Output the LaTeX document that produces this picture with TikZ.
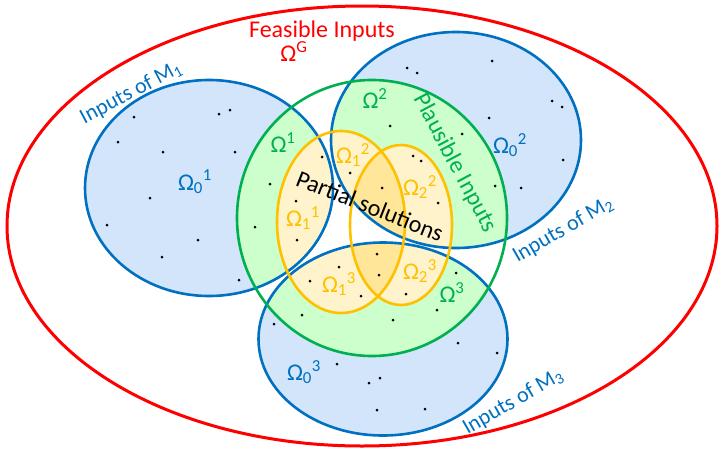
\documentclass[tikz,border=0pt]{standalone}
\usepackage{fontspec}
\setmainfont{Carlito}
\definecolor{feasred}{HTML}{FF0000}
\definecolor{inblue}{HTML}{0070C0}
\definecolor{inbluefill}{HTML}{D2E5FA}
\definecolor{plgreen}{HTML}{00B050}
\definecolor{plgreenfill}{HTML}{CCFFCC}
\definecolor{partyellow}{HTML}{FFC000}
\definecolor{partfill}{HTML}{FFF3CC}
\definecolor{partdark}{HTML}{FFE699}

\begin{document}
\begin{tikzpicture}[x=1pt,y=-1pt,
    point/.style={circle,fill=black,minimum size=3pt,inner sep=0pt},
    setline/.style={line width=2.6pt},
    lbl/.style={font=\fontsize{24}{28}\selectfont,inner sep=0pt},
    inlbl/.style={font=\fontsize{22}{26}\selectfont,inner sep=0pt,text=inblue}]

\useasboundingbox (0,0) rectangle (725,453);

% Feasible inputs
\draw[feasred,line width=3pt] (362,226) ellipse [x radius=355pt, y radius=220pt];

% Inputs of M1, M2, M3
\foreach \cx/\cy/\rx/\ry in {209/188/124/108, 456/140/125/108, 383/339/124.5/96.5}
  \fill[inbluefill] (\cx,\cy) ellipse [x radius=\rx pt, y radius=\ry pt];

% Plausible and partial regions, only inside the inputs
\foreach \cx/\cy/\rx/\ry in {209/188/124/108, 456/140/125/108, 383/339/124.5/96.5} {
  \begin{scope}
    \clip (\cx,\cy) ellipse [x radius=\rx pt, y radius=\ry pt];
    \fill[plgreenfill] (372,218) ellipse [x radius=135pt, y radius=138pt];
    \fill[partfill] (341,222) ellipse [x radius=64pt, y radius=91pt];
    \fill[partfill] (401,225) ellipse [x radius=51pt, y radius=80pt];
    \clip (341,222) ellipse [x radius=64pt, y radius=91pt];
    \fill[partdark] (401,225) ellipse [x radius=51pt, y radius=80pt];
  \end{scope}
}

% Outlines
\foreach \cx/\cy/\rx/\ry in {209/188/124/108, 456/140/125/108, 383/339/124.5/96.5}
  \draw[inblue,setline] (\cx,\cy) ellipse [x radius=\rx pt, y radius=\ry pt];
\draw[plgreen,setline] (372,218) ellipse [x radius=135pt, y radius=138pt];
\draw[partyellow,setline] (341,222) ellipse [x radius=64pt, y radius=91pt];
\draw[partyellow,setline] (401,225) ellipse [x radius=51pt, y radius=80pt];

% Sample points
\foreach \x/\y [count=\i] in {134/117, 219/114, 230/110, 118/142, 163/152, 235/152,
    270/184, 322/157, 350/173, 296/201, 150/198, 107/225,
    407/68, 417/73, 492/61, 552/101, 562/107, 489/118, 390/126, 462/134,
    413/156, 421/161, 563/160, 495/186, 521/188, 382/188, 438/203,
    255/227, 198/240, 162/257, 239/280, 297/240, 339/267, 310/281,
    361/296, 302/315, 274/324, 337/364,
    377/254, 379/275, 456/273, 406/294, 437/310, 393/320, 458/343,
    497/353, 369/383, 380/378, 377/410, 425/409}
  \node[point] (p\i) at (\x,\y) {};

% Labels
\node[lbl,text=feasred] (feas) at (322,31) {Feasible Inputs};
\node[lbl,text=feasred] (omG) at (294,52) {Ω\textsuperscript{G}};

\node[inlbl,rotate=28] (inM1) at (131,93) {Inputs of M\textsubscript{1}};
\node[inlbl,rotate=30] (inM2) at (563,230) {Inputs of M\textsubscript{2}};
\node[inlbl,rotate=30] (inM3) at (513,402) {Inputs of M\textsubscript{3}};

\node[lbl,text=inblue] (om01) at (195,182) {Ω\textsubscript{0}\textsuperscript{1}};
\node[lbl,text=inblue] (om02) at (510,145) {Ω\textsubscript{0}\textsuperscript{2}};
\node[lbl,text=inblue] (om03) at (304,372) {Ω\textsubscript{0}\textsuperscript{3}};

\node[lbl,text=plgreen] (om1) at (283,143) {Ω\textsuperscript{1}};
\node[lbl,text=plgreen] (om2) at (375,99) {Ω\textsuperscript{2}};
\node[lbl,text=plgreen] (om3) at (452,293) {Ω\textsuperscript{3}};
\node[lbl,text=plgreen,rotate=-62] (plaus) at (455,163) {Plausible Inputs};

\node[lbl,text=partyellow] (om11) at (303,218) {Ω\textsubscript{1}\textsuperscript{1}};
\node[lbl,text=partyellow] (om12) at (353,155) {Ω\textsubscript{1}\textsuperscript{2}};
\node[lbl,text=partyellow] (om22) at (420,187) {Ω\textsubscript{2}\textsuperscript{2}};
\node[lbl,text=partyellow] (om13) at (339,284) {Ω\textsubscript{1}\textsuperscript{3}};
\node[lbl,text=partyellow] (om23) at (420,271) {Ω\textsubscript{2}\textsuperscript{3}};

\node[lbl,rotate=-21.5] (partial) at (370,206) {Partial solutions};

\end{tikzpicture}
\end{document}
